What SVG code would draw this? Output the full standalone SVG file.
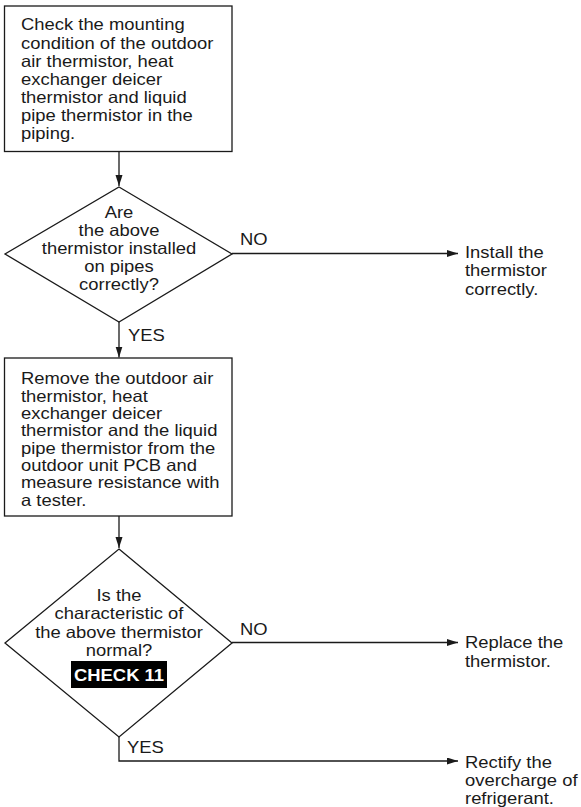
<svg xmlns="http://www.w3.org/2000/svg" width="581" height="807" viewBox="0 0 581 807">
<style>
.shape{fill:#fff;stroke:#1a1a1a;stroke-width:1.3}
.line{fill:none;stroke:#1a1a1a;stroke-width:1.3}
.t{font-family:"Liberation Sans",Arial,sans-serif;font-size:16.3px;fill:#1a1a1a}
.c{text-anchor:middle}
.b{font-weight:bold;fill:#fff}
</style>
<defs>
<marker id="arr" markerUnits="userSpaceOnUse" markerWidth="12" markerHeight="8" refX="11" refY="3.5" orient="auto">
<path d="M0,0 L11,3.5 L0,7 Z" fill="#1a1a1a"/>
</marker>
</defs>
<g id="connectors">
<line class="line" x1="119" y1="151.5" x2="119" y2="186" marker-end="url(#arr)"/>
<line class="line" x1="232" y1="253.5" x2="458" y2="253.5" marker-end="url(#arr)"/>
<line class="line" x1="119" y1="322" x2="119" y2="357.5" marker-end="url(#arr)"/>
<line class="line" x1="119" y1="516" x2="119" y2="548" marker-end="url(#arr)"/>
<line class="line" x1="232" y1="642.5" x2="458" y2="642.5" marker-end="url(#arr)"/>
<polyline class="line" points="119,737 119,761 458,761" marker-end="url(#arr)"/>
<g transform="translate(240,0) scale(1.13,1)"><text class="t" x="0" y="245">NO</text></g>
<g transform="translate(128,0) scale(1.13,1)"><text class="t" x="0" y="341">YES</text></g>
<g transform="translate(240,0) scale(1.13,1)"><text class="t" x="0" y="635">NO</text></g>
<g transform="translate(127,0) scale(1.13,1)"><text class="t" x="0" y="753">YES</text></g>
</g>
<g id="box1">
<rect class="shape" x="4.5" y="6" width="227.5" height="145.5"/>
<g transform="translate(21,0) scale(1.13,1)">
<text class="t" x="0" y="30.5">Check the mounting</text>
<text class="t" x="0" y="48.6">condition of the outdoor</text>
<text class="t" x="0" y="66.7">air thermistor, heat</text>
<text class="t" x="0" y="84.8">exchanger deicer</text>
<text class="t" x="0" y="102.9">thermistor and liquid</text>
<text class="t" x="0" y="121">pipe thermistor in the</text>
<text class="t" x="0" y="139.1">piping.</text>
</g>
</g>
<g id="decision1">
<polygon class="shape" points="119,187 232,254 119,322 5,254"/>
<g transform="translate(119,0) scale(1.13,1)">
<text class="t c" x="0" y="218">Are</text>
<text class="t c" x="0" y="236">the above</text>
<text class="t c" x="0" y="254">thermistor installed</text>
<text class="t c" x="0" y="272">on pipes</text>
<text class="t c" x="0" y="290">correctly?</text>
</g>
</g>
<g id="result1">
<g transform="translate(465,0) scale(1.13,1)">
<text class="t" x="0" y="258">Install the</text>
<text class="t" x="0" y="276.5">thermistor</text>
<text class="t" x="0" y="295">correctly.</text>
</g>
</g>
<g id="box2">
<rect class="shape" x="4.5" y="358" width="227.5" height="158"/>
<g transform="translate(21,0) scale(1.13,1)">
<text class="t" x="0" y="384.3">Remove the outdoor air</text>
<text class="t" x="0" y="401.6">thermistor, heat</text>
<text class="t" x="0" y="419">exchanger deicer</text>
<text class="t" x="0" y="436.4">thermistor and the liquid</text>
<text class="t" x="0" y="453.7">pipe thermistor from the</text>
<text class="t" x="0" y="471">outdoor unit PCB and</text>
<text class="t" x="0" y="488.4">measure resistance with</text>
<text class="t" x="0" y="505.7">a tester.</text>
</g>
</g>
<g id="decision2">
<polygon class="shape" points="119,549 232,643 119,737 5,643"/>
<g transform="translate(119,0) scale(1.13,1)">
<text class="t c" x="0" y="601">Is the</text>
<text class="t c" x="0" y="619">characteristic of</text>
<text class="t c" x="0" y="638">the above thermistor</text>
<text class="t c" x="0" y="656">normal?</text>
</g>
<rect x="71" y="661" width="96" height="27" fill="#000"/>
<g transform="translate(119,0) scale(1.13,1)">
<text class="t c b" x="0" y="681">CHECK 11</text>
</g>
</g>
<g id="result2">
<g transform="translate(465,0) scale(1.13,1)">
<text class="t" x="0" y="648">Replace the</text>
<text class="t" x="0" y="667">thermistor.</text>
</g>
</g>
<g id="result3">
<g transform="translate(465,0) scale(1.13,1)">
<text class="t" x="0" y="768">Rectify the</text>
<text class="t" x="0" y="786">overcharge of</text>
<text class="t" x="0" y="804">refrigerant.</text>
</g>
</g>
</svg>
